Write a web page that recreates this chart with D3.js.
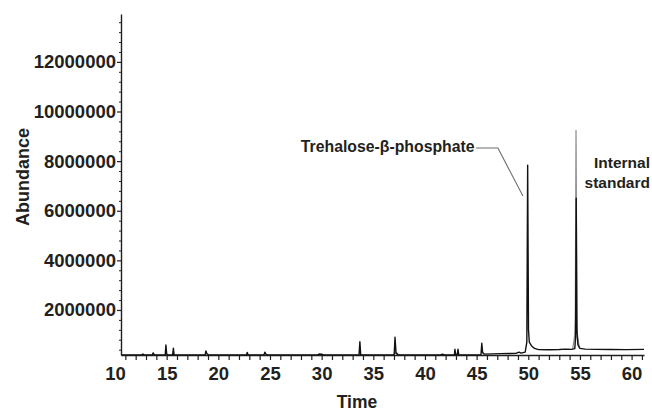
<!DOCTYPE html>
<html>
<head>
<meta charset="utf-8">
<script src="https://cdn.jsdelivr.net/npm/d3@7"></script>
<style>
  html, body { margin: 0; padding: 0; background: #fff; }
  svg { display: block; }
  text { font-family: "Liberation Sans", Arial, Helvetica, sans-serif; font-weight: bold; fill: #231f20; }
</style>
</head>
<body>
<svg id="chart" width="652" height="412"></svg>
<script>
// ---- data ----
const blackTime  = [10.58, 12.6, 12.7, 12.8, 13.6, 13.7, 13.8, 14.86, 14.93, 15.0, 15.1, 15.58, 15.65, 15.72,
  18.72, 18.8, 18.9, 19.05, 22.72, 22.8, 22.88, 24.42, 24.5, 24.6, 24.75, 29.6, 29.75, 30.0, 30.2,
  33.62, 33.7, 33.78, 33.9, 37.02, 37.1, 37.2, 37.4, 41.5, 41.7, 41.9,
  42.85, 42.9, 42.97, 43.13, 43.2, 43.27, 45.42, 45.5, 45.58, 45.75,
  46.5, 47.3, 48.2, 48.8, 49.1, 49.3, 49.7, 49.86, 49.94, 50.02, 50.1, 50.3, 50.6, 51.0, 52.0, 53.0, 53.6, 54.2,
  54.5, 54.58, 54.64, 54.7, 54.8, 55.0, 55.5, 56.5, 58.0, 59.5, 61.2];
const blackAbund = [190000, 190000, 230000, 190000, 190000, 270000, 190000, 190000, 590000, 230000, 190000, 190000, 455000, 190000,
  190000, 350000, 230000, 190000, 190000, 290000, 190000, 190000, 300000, 220000, 190000, 190000, 225000, 215000, 190000,
  190000, 720000, 200000, 190000, 190000, 900000, 260000, 190000, 190000, 215000, 190000,
  190000, 415000, 210000, 210000, 415000, 190000, 195000, 660000, 280000, 220000,
  230000, 240000, 245000, 250000, 300000, 260000, 300000, 700000, 7840000, 1200000, 700000, 560000, 450000, 400000, 395000, 405000, 420000, 410000,
  440000, 900000, 6510000, 1200000, 600000, 450000, 420000, 410000, 405000, 400000, 410000];

const grayTime  = [36.95, 37.15, 37.3, 37.5, 54.3, 54.5, 54.55, 54.62, 54.71, 54.76, 54.95];
const grayAbund = [190000, 280000, 260000, 190000, 420000, 1000000, 1750000, 9250000, 1750000, 1000000, 450000];

const xLabelTicks = [10, 15, 20, 25, 30, 35, 40, 45, 50, 55, 60];
const yLabelTicks = [2000000, 4000000, 6000000, 8000000, 10000000, 12000000];

const xTitle = "Time";
const yTitle = "Abundance";
const peakLabel = "Trehalose-\u03b2-phosphate";
const stdLabel = ["Internal", "standard"];
// leader line for the peak label, in data units [time, abundance]
const leaderTime  = [44.93, 47.06, 49.48];
const leaderAbund = [8530000, 8530000, 6594000];

// ---- drawing ----
const svg = d3.select("#chart");
const x = d3.scaleLinear().domain([10.58, 61.2]).range([121, 644]);
const y = d3.scaleLinear().domain([185000, 13930000]).range([355, 14]);

const xMinor = d3.range(11, 62, 1);
const yMinor = d3.range(400000, 13700000, 400000).filter(v => Math.round(v / 400000) % 5 !== 0);

// y axis
const yAxis = svg.append("g").attr("transform", "translate(121,0)")
  .call(d3.axisLeft(y).tickValues(yLabelTicks).tickSize(4).tickSizeOuter(0).tickPadding(1)
    .tickFormat(d3.format("d")));
yAxis.select(".domain").attr("stroke", "#231f20").attr("stroke-width", 1.4);
yAxis.selectAll(".tick line").attr("stroke", "#231f20").attr("stroke-width", 1.2);
yAxis.selectAll("text").style("font-size", "18.5px").attr("fill", "#231f20");

svg.append("g").attr("transform", "translate(121,0)")
  .call(d3.axisLeft(y).tickValues(yMinor).tickSize(2).tickFormat(""))
  .call(g => g.select(".domain").remove())
  .selectAll(".tick line").attr("stroke", "#231f20").attr("stroke-width", 1);

// x axis
const xAxis = svg.append("g").attr("transform", `translate(0,${y(185000)})`)
  .call(d3.axisBottom(x).tickValues(xMinor).tickSize(5).tickSizeOuter(0).tickFormat(""));
xAxis.select(".domain").attr("stroke", "#231f20").attr("stroke-width", 1.4);
xAxis.selectAll(".tick line").attr("stroke", "#231f20").attr("stroke-width", 1.2);

const xLab = svg.append("g").attr("transform", `translate(0,${y(185000)})`)
  .call(d3.axisBottom(x).tickValues(xLabelTicks).tickSize(0).tickPadding(12).tickFormat(d3.format("d")));
xLab.select(".domain").remove();
xLab.selectAll("text").style("font-size", "18.5px").attr("fill", "#231f20");

// axis titles
svg.append("text").attr("x", 357).attr("y", 407.5).attr("text-anchor", "middle")
  .style("font-size", "17.5px").text(xTitle);
svg.append("text").attr("transform", "translate(29,177) rotate(-90)").attr("text-anchor", "middle")
  .style("font-size", "18px").text(yTitle);

// traces
const line = d3.line().x(d => x(d[0])).y(d => y(d[1]));
const grayPts = grayTime.map((t, i) => [t, grayAbund[i]]);
const blackPts = blackTime.map((t, i) => [t, blackAbund[i]]);

// gray segments drawn separately (two pieces)
svg.append("path").datum(grayPts.slice(0, 4)).attr("d", line)
  .attr("fill", "none").attr("stroke", "#8a8a8a").attr("stroke-width", 1.2);
svg.append("path").datum(grayPts.slice(4)).attr("d", line)
  .attr("fill", "none").attr("stroke", "#8a8a8a").attr("stroke-width", 1.2);

svg.append("path").datum(blackPts).attr("d", line)
  .attr("fill", "none").attr("stroke", "#111").attr("stroke-width", 1.4).attr("stroke-linejoin", "round");

// annotations
const leader = leaderTime.map((t, i) => [t, leaderAbund[i]]);
svg.append("path").datum(leader).attr("d", line)
  .attr("fill", "none").attr("stroke", "#6e6e6e").attr("stroke-width", 1.1);
svg.append("text").attr("x", x(44.8)).attr("y", y(8370000)).attr("text-anchor", "end")
  .style("font-size", "15.8px").text(peakLabel);

svg.append("text").attr("x", 650).attr("y", y(7720000)).attr("text-anchor", "end")
  .style("font-size", "15.5px").text(stdLabel[0]);
svg.append("text").attr("x", 650).attr("y", y(6920000)).attr("text-anchor", "end")
  .style("font-size", "15.5px").text(stdLabel[1]);
</script>
</body>
</html>
